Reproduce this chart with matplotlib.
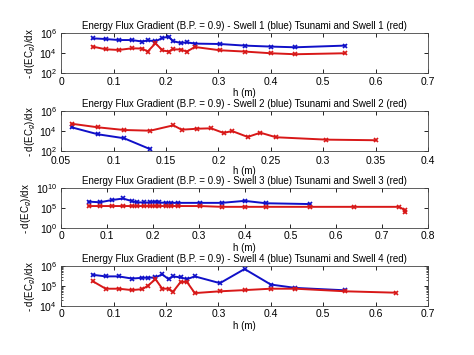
import matplotlib.pyplot as plt
import numpy as np
from matplotlib.ticker import LogLocator, NullLocator, NullFormatter

plt.rcParams['font.family'] = ['Liberation Sans', 'DejaVu Sans']
plt.rcParams['font.size'] = 7

# h (m) grid used by the runs
h18 = [0.06, 0.085, 0.11, 0.135, 0.155, 0.165, 0.18, 0.193, 0.205, 0.213,
       0.228, 0.24, 0.255, 0.303, 0.35, 0.4, 0.447, 0.542]

# swell 1
h1_blue = h18
h1_red = h18
log1_blue = [5.5, 5.43, 5.33, 5.33, 5.17, 5.3, 5.2, 5.53, 5.67, 5.23,
             5.03, 5.1, 4.97, 4.93, 4.77, 4.67, 4.6, 4.77]
log1_red = [4.67, 4.4, 4.33, 4.5, 4.47, 4.17, 5.0, 4.3, 4.17, 4.4,
            4.37, 4.17, 4.63, 4.3, 4.17, 4.0, 3.9, 4.0]

# swell 2
h2_blue = [0.06, 0.085, 0.11, 0.135]
log2_blue = [4.37, 3.67, 3.27, 2.17]
h2_red = [0.06, 0.085, 0.11, 0.135, 0.157, 0.165, 0.18, 0.193, 0.205, 0.213,
          0.228, 0.24, 0.255, 0.303, 0.35]
log2_red = [4.73, 4.37, 4.1, 4.03, 4.57, 4.13, 4.23, 4.27, 3.8, 4.0,
            3.4, 3.83, 3.37, 3.13, 3.07]

# swell 3
h3_blue = h18
log3_blue = [6.6, 6.45, 7.0, 7.4, 6.7, 6.45, 6.4, 6.4, 6.6, 6.4,
             6.3, 6.3, 6.3, 6.3, 6.3, 6.8, 6.2, 6.0]
h3_red = h18 + [0.638, 0.737, 0.749, 0.75]
log3_red = [5.5, 5.5, 5.5, 5.5, 5.5, 5.5, 5.5, 5.5, 5.5, 5.5,
            5.5, 5.5, 5.5, 5.5, 5.3, 5.3, 5.3, 5.3, 5.3, 5.3, 4.5, 3.9]

# swell 4
h4_blue = h18
log4_blue = [5.57, 5.49, 5.49, 5.38, 5.42, 5.42, 5.44, 5.59, 5.35, 5.49,
             5.44, 5.35, 5.49, 5.15, 5.86, 5.08, 4.91, 4.79]
h4_red = h18 + [0.638]
log4_red = [5.25, 4.87, 4.87, 4.80, 4.85, 5.01, 5.35, 4.87, 4.87, 4.70,
            5.21, 5.21, 4.65, 4.74, 4.80, 4.87, 4.87, 4.74, 4.67]

panels = [
    (1, h1_blue, log1_blue, h1_red, log1_red, (0, 0.7), np.arange(0, 0.71, 0.1), (1e2, 1e6), [1e2, 1e4, 1e6]),
    (2, h2_blue, log2_blue, h2_red, log2_red, (0.05, 0.4), np.arange(0.05, 0.401, 0.05), (1e2, 1e6), [1e2, 1e4, 1e6]),
    (3, h3_blue, log3_blue, h3_red, log3_red, (0, 0.8), np.arange(0, 0.81, 0.1), (1e0, 1e10), [1e0, 1e5, 1e10]),
    (4, h4_blue, log4_blue, h4_red, log4_red, (0, 0.7), np.arange(0, 0.71, 0.1), (1e4, 1e6), [1e4, 1e5, 1e6]),
]

fig = plt.figure(figsize=(4.74, 3.55), dpi=100)
bottoms = [0.794, 0.575, 0.358, 0.138]
blue = '#1010c8'
red = '#d81818'

for (n, hb, lb, hr, lr, xl, xt, yl, yt), b in zip(panels, bottoms):
    ax = fig.add_axes([0.129, b, 0.774, 0.112])
    ax.plot(hb, 10 ** np.array(lb), color=blue, marker='x', ms=3.5, mew=1.2, lw=1.4)
    ax.plot(hr, 10 ** np.array(lr), color=red, marker='x', ms=3.5, mew=1.2, lw=1.4)
    ax.set_yscale('log')
    ax.set_xlim(xl)
    ax.set_ylim(yl)
    ax.set_xticks(xt)
    ax.set_xticklabels(['%g' % v for v in xt])
    ax.set_yticks(yt)
    if n == 4:
        ax.yaxis.set_minor_locator(LogLocator(base=10, subs=np.arange(2, 10)))
        ax.yaxis.set_minor_formatter(NullFormatter())
    else:
        ax.yaxis.set_minor_locator(NullLocator())
    ax.tick_params(direction='in', top=True, right=True, length=3, width=0.6)
    ax.tick_params(axis='x', pad=3.5 if n == 2 else 2.5, labelsize=7.5)
    ax.tick_params(axis='y', pad=3, labelsize=7.5)
    ax.tick_params(which='minor', direction='in', right=True, length=1.5, width=0.5)
    for s in ax.spines.values():
        s.set_linewidth(0.6)
        s.set_color('#444444')
    ax.set_title('Energy Flux Gradient (B.P. = 0.9) - Swell %d (blue) Tsunami and Swell %d (red)' % (n, n),
                 fontsize=7, pad=3)
    ax.set_xlabel('h (m)', labelpad=0 if n == 2 else 1)
    ax.set_ylabel('- d(EC$_g$)/dx', labelpad=1)

fig.savefig('out.png', dpi=100)
